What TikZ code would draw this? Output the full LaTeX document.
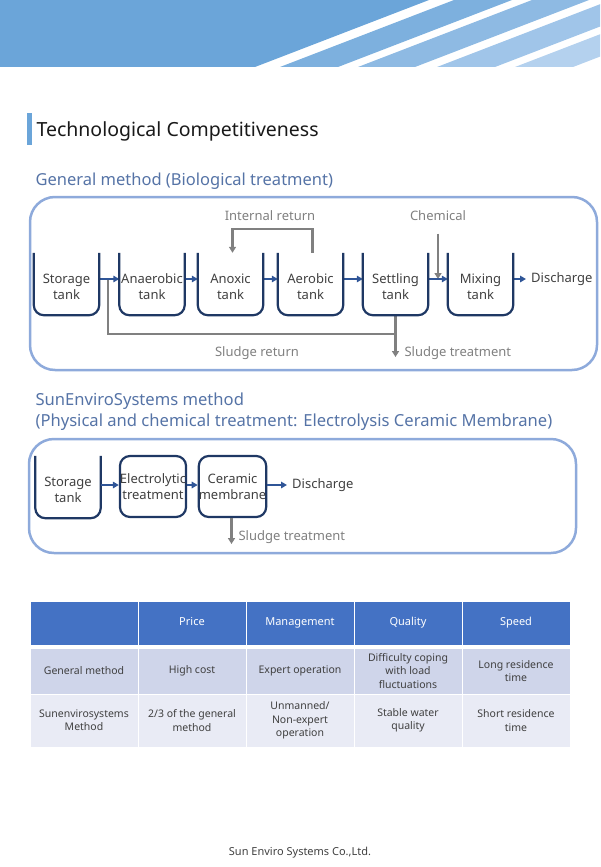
\documentclass[tikz,border=0pt]{standalone}
\usepackage{fontspec}
\setmainfont{Noto Sans}
\usetikzlibrary{arrows.meta,positioning}

\definecolor{navy}{HTML}{1F3864}
\definecolor{flowblue}{HTML}{2F5597}
\definecolor{frameblue}{HTML}{8EAADB}
\definecolor{headblue}{HTML}{4472C4}
\definecolor{rowa}{HTML}{CFD5EA}
\definecolor{rowb}{HTML}{E9EBF5}
\definecolor{heading}{HTML}{5573A6}
\definecolor{txt}{HTML}{404040}
\definecolor{band1}{HTML}{6BA5D9}
\definecolor{band2}{HTML}{7DB0DE}
\definecolor{band3}{HTML}{8EBAE3}
\definecolor{band4}{HTML}{A0C5E9}
\definecolor{band5}{HTML}{B4D1EE}

\tikzset{
  tank/.style={minimum width=65pt, minimum height=62pt, inner sep=0pt, align=center, text=txt},
  unit/.style={tank, draw=navy, line width=2.2pt, rounded corners=10pt, minimum width=64pt, minimum height=61pt},
  wall/.style={draw=navy, line width=2.2pt, rounded corners=10pt},
  flow/.style={draw=flowblue, line width=2pt, -{Triangle[length=6pt,width=6.5pt]}},
  ret/.style={draw=gray, line width=2.5pt},
  retarrow/.style={ret, -{Triangle[length=6pt,width=7pt]}},
  lbl/.style={text=gray},
  frame/.style={draw=frameblue, line width=2.5pt, rounded corners=25pt},
  cell/.style={minimum width=108pt, draw=white, line width=1pt, align=center, inner sep=0pt,
    font=\fontsize{10.5}{13.3}\selectfont, text=txt},
  headcell/.style={cell, fill=headblue, text=white, minimum height=44pt, text height=8pt, text depth=2.5pt,
    font=\fontsize{11}{13}\selectfont},
}

\begin{document}
\begin{tikzpicture}[x=1pt, y=-1pt, font=\fontsize{13}{16}\selectfont]
  \useasboundingbox (0,0) rectangle (600,867);

  % banner
  \begin{scope}
    \clip (0,0) rectangle (600,67);
    \fill[band1] (0,0) -- (429,0) -- (255,67) -- (0,67) -- cycle;
    \foreach \a/\b/\c in {280/338/band2, 358/415/band3, 437/495/band4, 515/573/band5}
      \fill[\c] (\a,67) -- (\b,67) -- ++(174,-67) -- ({\a+174},0) -- cycle;
  \end{scope}

  % title
  \fill[band1] (27,113) rectangle (32,145);
  \node[anchor=west, font=\fontsize{19.5}{24}\selectfont, text=black!90] (ttl) at (33,131) {Technological Competitiveness};

  % general method
  \node[anchor=west, text=heading, font=\fontsize{16.5}{21}\selectfont] (t1) at (32,181) {General method (Biological treatment)};
  \draw[frame] (30,197) rectangle (597,370);

  \begin{scope}[every node/.style={tank}]
    \node (st) at (66.5,287)  {Storage\\tank};
    \node (an) at (152,287)   {Anaerobic\\tank};
    \node (ax) at (230.5,287) {Anoxic\\tank};
    \node (ae) at (310.5,287) {Aerobic\\tank};
    \node (se) at (395.5,287) {Settling\\tank};
    \node (mx) at (480.5,287) {Mixing\\tank};
  \end{scope}
  \node[anchor=west, inner sep=5pt, text=txt] (dc) at (526,279) {Discharge};

  \coordinate (fl) at (0,279);
  \coordinate (irl) at (0,229);
  \coordinate (sr) at (0,334);
  \coordinate (jn) at (108,279);

  \node[lbl] (ir) at (270,216) {Internal return};
  \node[lbl] (ch) at (438,216) {Chemical};
  \node[lbl] (srl) at (257,353) {Sludge return};
  \node[lbl, anchor=west] (stl) at (401,353) {Sludge treatment};

  % grey returns
  \draw[ret, line join=miter] ([yshift=3pt]se.south) -- (se.south |- sr) -- (jn |- sr) -- (jn);
  \draw[retarrow] (se.south |- sr) -- (se.south |- 0,357);
  \draw[retarrow, line join=miter] ([xshift=2pt,yshift=3pt]ae.north) -- ([xshift=2pt]ae.north |- irl)
    -- ([xshift=2pt]ax.north |- irl) -- ([xshift=2pt,yshift=3pt]ax.north);
  \draw[retarrow] ([yshift=-9pt]ch.south) -- (ch.south |- fl);

  % blue flow
  \foreach \a/\b in {st/an, an/ax, ax/ae, ae/se, se/mx}
    \draw[flow] (\a.east |- fl) -- (\b.west |- fl);
  \draw[flow] (mx.east |- fl) -- (dc.west);

  % SunEnviroSystems method
  \node[anchor=west, align=left, text=heading, font=\fontsize{16.6}{21}\selectfont] (t2) at (32,411.5)
    {SunEnviroSystems method\\(Physical and chemical treatment: Electrolysis Ceramic Membrane)};
  \draw[frame] (29,439) rectangle (576,553);

  \node[tank] (st2) at (68,490) {Storage\\tank};
  \node[unit] (el) at (153,486.5) {Electrolytic\\treatment};
  \node[unit] (cm) at (232.5,486.5) {Ceramic\\membrane};
  \node[anchor=west, inner sep=5pt, text=txt] (dc2) at (287,485) {Discharge};
  \node[lbl, anchor=west] (st2l) at (235,537) {Sludge treatment};

  \foreach \n in {st,an,ax,ae,se,mx,st2}
    \draw[wall] ([yshift=3pt]\n.north west) -- ([yshift=3pt]\n.south west)
      -- ([yshift=3pt]\n.south east) -- ([yshift=3pt]\n.north east);

  \coordinate (fl2) at (0,485);
  \draw[flow] (st2.east |- fl2) -- (el.west |- fl2);
  \draw[flow] (el.east |- fl2) -- (cm.west |- fl2);
  \draw[flow] (cm.east |- fl2) -- (dc2.west);
  \draw[retarrow] ([xshift=-1pt]cm.south) -- ([xshift=-1pt]cm.south |- 0,544);

  % comparison table
  \foreach \x/\t [count=\i] in {84/{}, 192/Price, 300/Management, 408/Quality, 516/Speed}
    \node[headcell] (h\i) at (\x,623) {\t};
  \foreach \x/\t [count=\i] in {84/General method, 192/High cost, 300/Expert operation,
      408/{Difficulty coping\\with load\\fluctuations}, 516/{Long residence\\time}}
    \node[cell, fill=rowa, minimum height=46pt] (g\i) at (\x,671) {\t};
  \foreach \x/\t [count=\i] in {84/{Sunenvirosystems\\Method}, 192/{2/3 of the general\\method},
      300/{Unmanned/\\Non-expert\\operation}, 408/{Stable water\\quality}, 516/{Short residence\\time}}
    \node[cell, fill=rowb, minimum height=53pt] (s\i) at (\x,720.5) {\t};

  \node[text=txt, font=\fontsize{11}{13}\selectfont] (ft) at (300,853) {Sun Enviro Systems Co.,Ltd.};
\end{tikzpicture}
\end{document}
